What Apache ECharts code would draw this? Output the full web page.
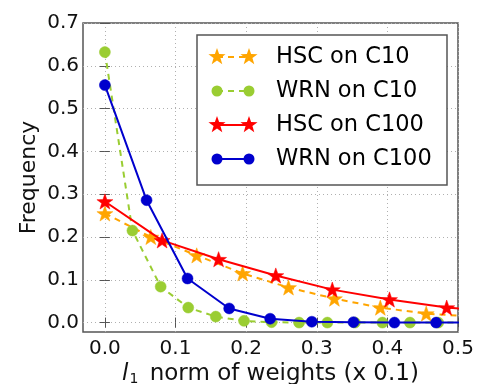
<!DOCTYPE html>
<html><head><meta charset="utf-8">
<script src="https://cdn.jsdelivr.net/npm/echarts@6/dist/echarts.min.js"></script>
<style>html,body{margin:0;padding:0;background:#fff}#c{width:484px;height:384px}</style>
</head><body><div id="c"></div>
<script>
const seriesNames = ['HSC on C10', 'WRN on C10', 'HSC on C100', 'WRN on C100'];
const hscC10X = [0.000, 0.065, 0.130, 0.195, 0.260, 0.325, 0.390, 0.455, 0.520];
const hscC10Y = [0.255, 0.200, 0.157, 0.115, 0.082, 0.056, 0.035, 0.021, 0.014];
const wrnC10X = [0.000, 0.039, 0.079, 0.118, 0.157, 0.197, 0.236, 0.275, 0.315, 0.354, 0.393, 0.432, 0.472, 0.511];
const wrnC10Y = [0.632, 0.215, 0.084, 0.035, 0.014, 0.004, 0.001, 0.000, 0.000, 0.000, 0.000, 0.000, 0.000, 0.000];
const hscC100X = [0.000, 0.081, 0.161, 0.242, 0.322, 0.403, 0.484, 0.565];
const hscC100Y = [0.283, 0.192, 0.148, 0.110, 0.077, 0.054, 0.035, 0.024];
const wrnC100X = [0.000, 0.059, 0.117, 0.176, 0.234, 0.293, 0.352, 0.410, 0.469, 0.527];
const wrnC100Y = [0.555, 0.286, 0.103, 0.033, 0.009, 0.002, 0.001, 0.000, 0.000, 0.000];
const xTicks = [0.0, 0.1, 0.2, 0.3, 0.4, 0.5];
const yTicks = [0.0, 0.1, 0.2, 0.3, 0.4, 0.5, 0.6, 0.7];

const colors = ['#FFA500', '#9ACD32', '#FF0000', '#0000CD'];
const dashed = [true, true, false, false];
const isStar = [true, false, true, false];
const STAR = 'path://M0,-10L2.35,-3.24L9.51,-3.09L3.8,1.24L5.88,8.09L0,4L-5.88,8.09L-3.8,1.24L-9.51,-3.09L-2.35,-3.24Z';
const xs = [hscC10X, wrnC10X, hscC100X, wrnC100X];
const ys = [hscC10Y, wrnC10Y, hscC100Y, wrnC100Y];
const FONT = 'DejaVu Sans';
const frame = '#555';

function pairs(a, b) { return a.map((v, i) => [v, b[i]]); }

const series = seriesNames.map((n, k) => ({
  name: n, type: 'line', data: pairs(xs[k], ys[k]), clip: true,
  symbol: isStar[k] ? STAR : 'circle',
  symbolSize: isStar[k] ? 16 : 11,
  symbolKeepAspect: true,
  showAllSymbol: true,
  lineStyle: { color: colors[k], width: 2, type: dashed[k] ? [6, 5] : 'solid' },
  itemStyle: { color: colors[k], borderColor: colors[k], borderWidth: 0.5 },
  emphasis: { disabled: true },
  animation: false, z: 2 + k
}));

function starPts(cx, cy, R) {
  const r = R * 0.4, p = [];
  for (let i = 0; i < 10; i++) {
    const a = -Math.PI / 2 + i * Math.PI / 5, rr = i % 2 ? r : R;
    p.push([cx + rr * Math.cos(a), cy + rr * Math.sin(a)]);
  }
  return p;
}
const legendEls = [{
  type: 'rect', shape: { x: 197, y: 35, width: 250, height: 150 },
  style: { fill: '#fff', stroke: frame, lineWidth: 1.5 }, z: 100
}];
const rowY = [57, 91, 125, 159];
seriesNames.forEach((n, k) => {
  const y = rowY[k];
  legendEls.push({ type: 'line', shape: { x1: 217, y1: y, x2: 249, y2: y },
    style: { stroke: colors[k], lineWidth: 2, lineDash: dashed[k] ? [6, 5] : null }, z: 101 });
  [217, 249].forEach(cx => {
    if (isStar[k]) legendEls.push({ type: 'polygon', shape: { points: starPts(cx, y, 9) }, style: { fill: colors[k] }, z: 102 });
    else legendEls.push({ type: 'circle', shape: { cx: cx, cy: y, r: 5.5 }, style: { fill: colors[k] }, z: 102 });
  });
  legendEls.push({ type: 'text', x: 276, y: y, style: { text: n, font: '22.5px "DejaVu Sans"', fill: '#000', textVerticalAlign: 'middle' }, z: 102 });
});

const tickFmt = v => (Math.round(v * 10) / 10).toFixed(1);
const gridLine = { show: true, lineStyle: { color: '#b0b0b0', type: [1, 3], width: 1 } };

const option = {
  animation: false,
  grid: { left: 83, right: 26, top: 23, bottom: 52, outerBoundsMode: 'none', containLabel: false,
          show: true, borderColor: frame, borderWidth: 1.5, backgroundColor: 'transparent' },
  xAxis: [{
    type: 'value', min: -0.031, max: 0.5, position: 'bottom',
    axisLine: { show: false },
    axisTick: { show: true, inside: true, length: 5, customValues: xTicks, lineStyle: { color: frame, width: 1 } },
    axisLabel: { customValues: xTicks, formatter: tickFmt, fontFamily: FONT, fontSize: 20, color: '#111', margin: 7 },
    splitLine: gridLine,
    name: '{i|l}{s|1} norm of weights (x 0.1)', nameLocation: 'middle', nameGap: 30, nameMoveOverlap: false,
    nameTextStyle: { fontFamily: FONT, fontSize: 23, color: '#111', verticalAlign: 'top',
      rich: { i: { fontFamily: FONT, fontStyle: 'italic', fontSize: 23, color: '#111' },
              s: { fontFamily: FONT, fontSize: 14, color: '#111', verticalAlign: 'bottom', padding: [10, 4, 0, 1] } } }
  }, {
    type: 'value', min: -0.031, max: 0.5, position: 'top',
    axisLine: { show: false }, axisLabel: { show: false }, splitLine: { show: false },
    axisTick: { show: true, inside: true, length: 5, customValues: xTicks, lineStyle: { color: frame, width: 1 } }
  }],
  yAxis: [{
    type: 'value', min: -0.022, max: 0.7, position: 'left',
    axisLine: { show: false },
    axisTick: { show: true, inside: true, length: 5, customValues: yTicks, lineStyle: { color: frame, width: 1 } },
    axisLabel: { customValues: yTicks, formatter: tickFmt, fontFamily: FONT, fontSize: 20, color: '#111', margin: 4 },
    splitLine: gridLine,
    name: 'Frequency', nameLocation: 'middle', nameGap: 43, nameMoveOverlap: false,
    nameTextStyle: { fontFamily: FONT, fontSize: 22, color: '#111', verticalAlign: 'bottom' }
  }, {
    type: 'value', min: -0.022, max: 0.7, position: 'right',
    axisLine: { show: false }, axisLabel: { show: false }, splitLine: { show: false },
    axisTick: { show: true, inside: true, length: 5, customValues: yTicks, lineStyle: { color: frame, width: 1 } }
  }],
  series: series,
  graphic: legendEls
};
const chart = echarts.init(document.getElementById('c'), null, { renderer: 'canvas' });
chart.setOption(option);
</script></body></html>
